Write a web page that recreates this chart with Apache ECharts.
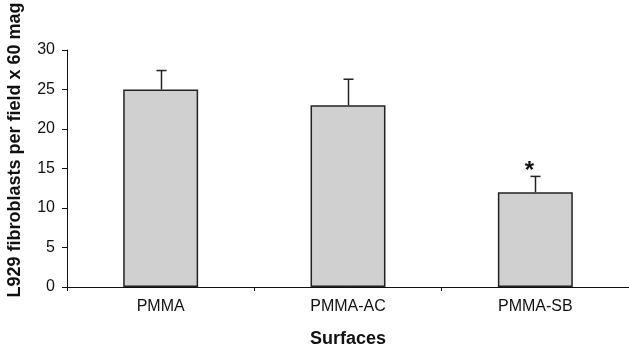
<!DOCTYPE html>
<html>
<head>
<meta charset="utf-8">
<script src="https://cdn.jsdelivr.net/npm/echarts@6/dist/echarts.min.js"></script>
<style>html,body{margin:0;padding:0;background:#fff}#c{width:629px;height:348px}</style>
</head>
<body>
<div id="c"></div>
<script>
var categories = ["PMMA", "PMMA-AC", "PMMA-SB"];
var means = [25, 23, 12];
var errors = [2.4, 3.3, 2.0];
var marks = ["", "", "*"];
var yTicks = [0, 5, 10, 15, 20, 25, 30];

var chart = echarts.init(document.getElementById('c'), null, {renderer: 'canvas'});
var font = 'Liberation Sans, Arial, sans-serif';
chart.setOption({
  animation: false,
  grid: {left: 67, right: 0, top: 50, bottom: 61, containLabel: false, outerBoundsMode: 'none'},
  xAxis: {
    type: 'category',
    data: categories,
    axisLine: {lineStyle: {color: '#111', width: 1}},
    axisTick: {show: true, length: 4, lineStyle: {color: '#111'}},
    axisLabel: {color: '#111', fontSize: 16, fontFamily: font, margin: 12},
    name: 'Surfaces',
    nameLocation: 'middle',
    nameGap: 43,
    nameTextStyle: {color: '#111', fontSize: 18, fontWeight: 'bold', fontFamily: font}
  },
  yAxis: {
    type: 'value',
    min: yTicks[0],
    max: yTicks[yTicks.length - 1],
    interval: 5,
    splitLine: {show: false},
    axisLine: {show: true, lineStyle: {color: '#111', width: 1}},
    axisTick: {show: true, length: 5, lineStyle: {color: '#111'}},
    axisLabel: {color: '#111', fontSize: 16, fontFamily: font, margin: 12},
    name: 'L929 fibroblasts per field x 60 mag',
    nameLocation: 'middle',
    nameGap: 43,
    nameTextStyle: {color: '#111', fontSize: 18, fontWeight: 'bold', fontFamily: font, padding: [0, 0, 0, 37]}
  },
  series: [
    {
      type: 'bar',
      data: means,
      barWidth: '40%',
      itemStyle: {color: '#d0d0d0', borderColor: '#222', borderWidth: 1.5},
      z: 2
    },
    {
      type: 'custom',
      z: 3,
      data: means.map(function (m, i) { return [i, m, m + errors[i], marks[i]]; }),
      renderItem: function (params, api) {
        var base = api.coord([api.value(0), api.value(1)]);
        var top = api.coord([api.value(0), api.value(2)]);
        var x = Math.round(base[0]) + 0.5;
        var children = [
          {type: 'line', shape: {x1: x, y1: base[1], x2: x, y2: top[1]}, style: {stroke: '#222', lineWidth: 1.5}},
          {type: 'line', shape: {x1: x - 5, y1: top[1], x2: x + 5, y2: top[1]}, style: {stroke: '#222', lineWidth: 1.5}}
        ];
        var m = marks[params.dataIndex];
        if (m) {
          children.push({type: 'text', style: {text: m, x: x - 6, y: top[1] - 17, textAlign: 'center', textVerticalAlign: 'top', font: 'bold 24px ' + font, fill: '#111'}});
        }
        return {type: 'group', children: children};
      }
    }
  ]
});
</script>
</body>
</html>
